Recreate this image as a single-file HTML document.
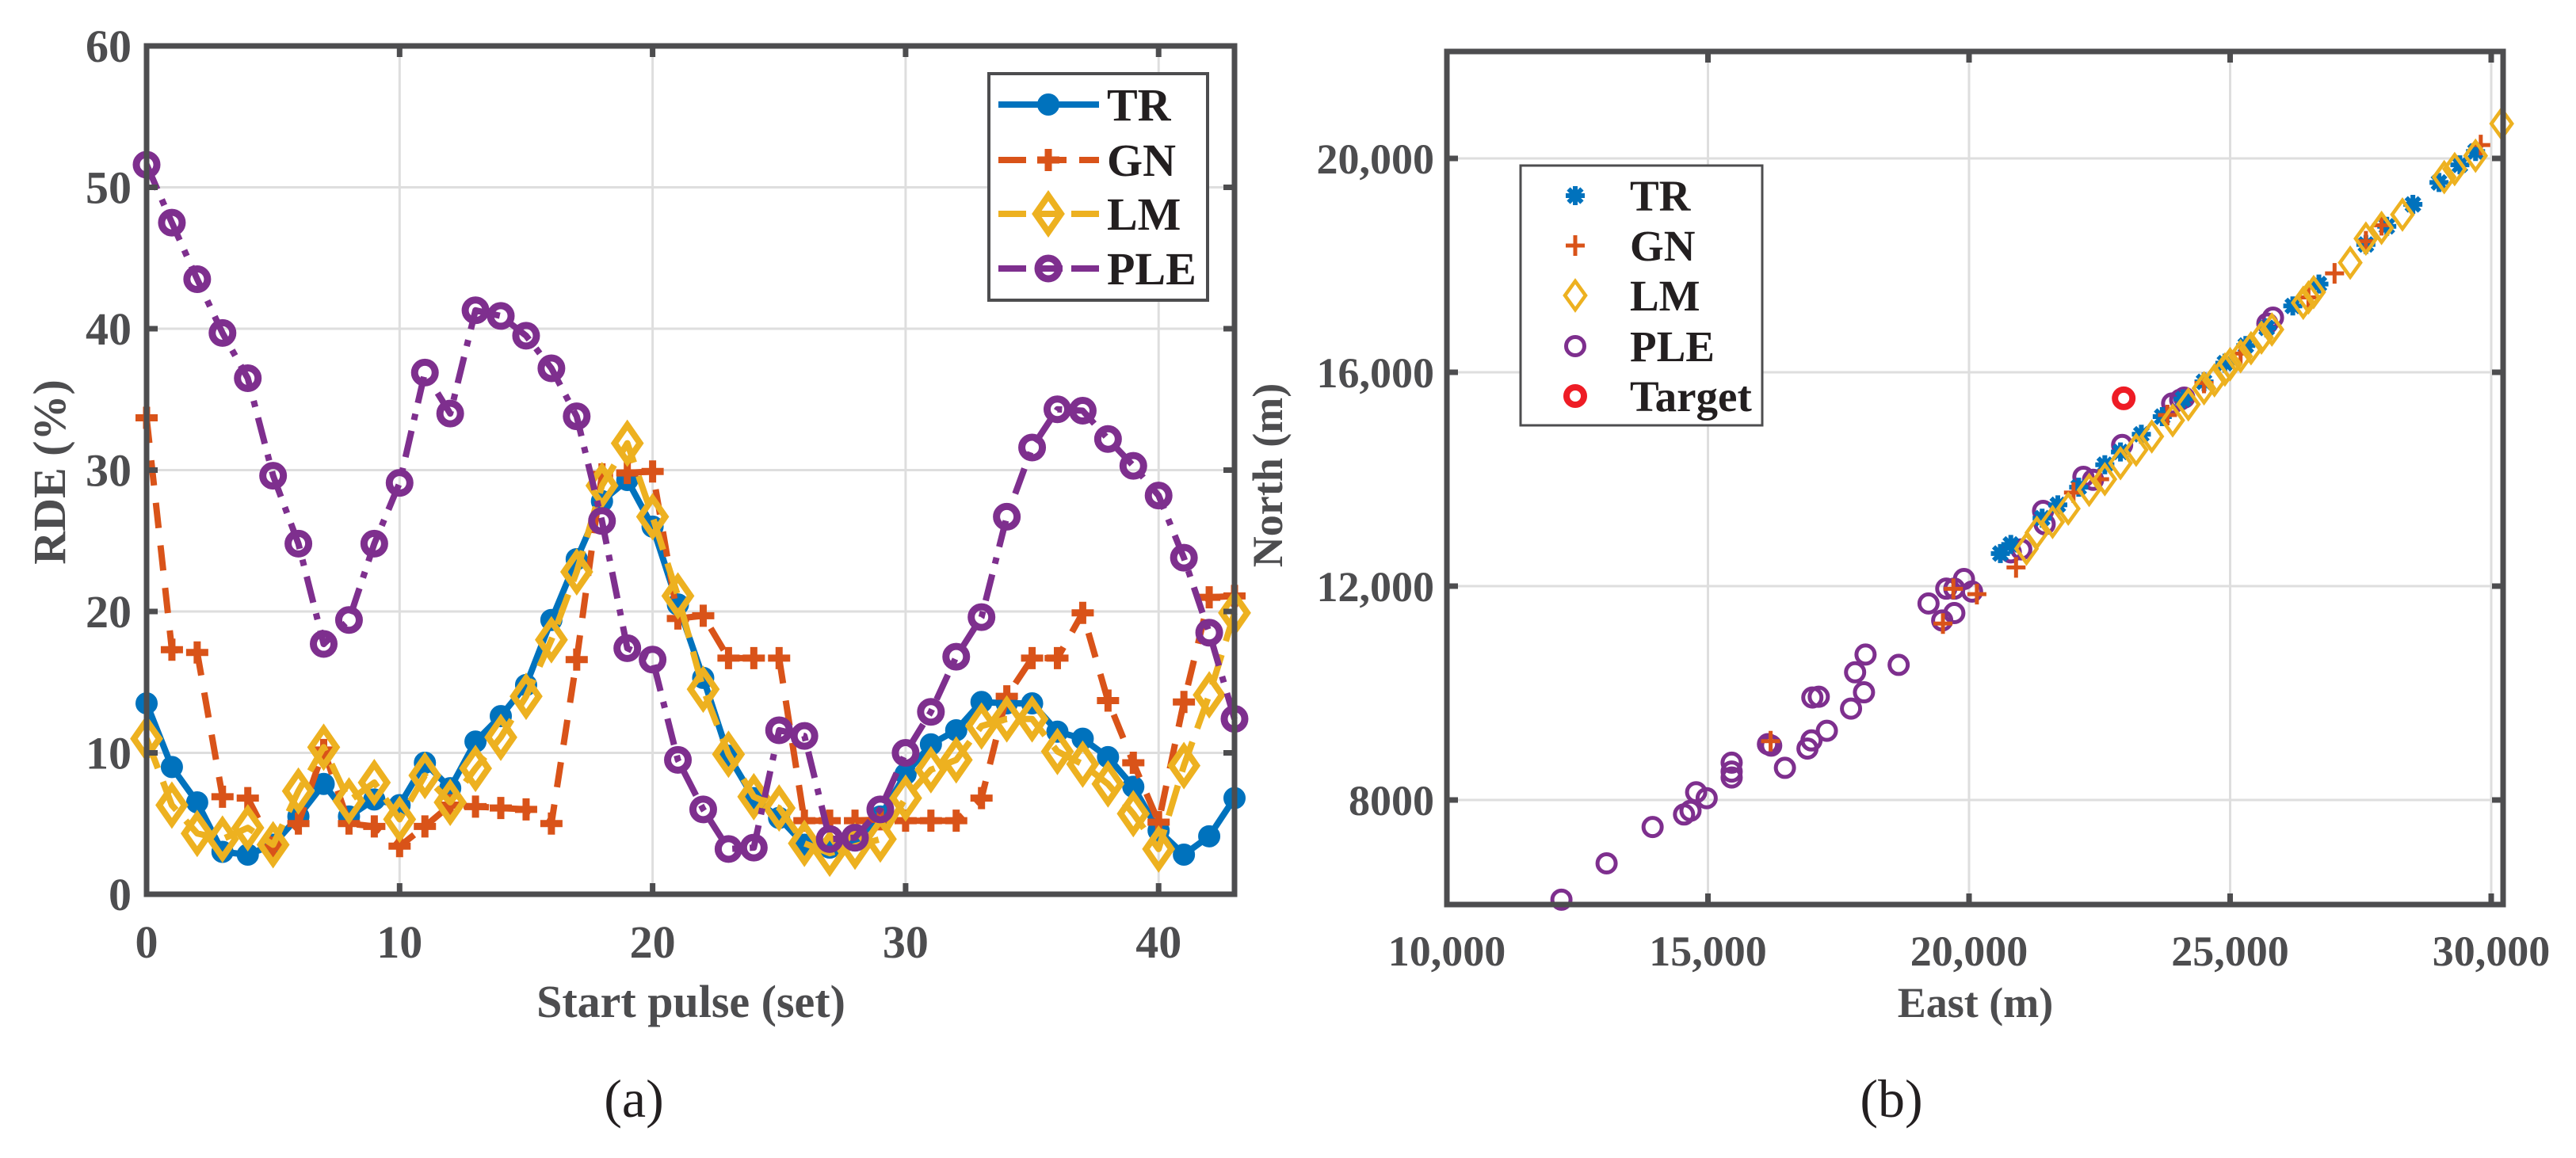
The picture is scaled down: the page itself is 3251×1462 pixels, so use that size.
<!DOCTYPE html>
<html><head><meta charset="utf-8">
<style>
html,body{margin:0;padding:0;background:#fff;}
svg{display:block;}
text{font-family:"Liberation Serif","DejaVu Serif",serif;}
</style></head>
<body>
<svg id="fig" width="3251" height="1462" viewBox="0 0 3251 1462" xmlns="http://www.w3.org/2000/svg" font-family="Liberation Serif, serif">
<g id="chartA"></g>
<g id="chartB"></g>
</svg>
<script>
// ---------- Chart A data ----------
const pulseIdx = Array.from({length:44},(_,i)=>i);
const trRDE = [13.5,9,6.5,3,2.8,3.5,5.5,7.8,5.5,6.7,6.3,9.3,7.5,10.8,12.6,14.8,19.4,23.7,27.8,29.3,26,20.5,15.3,9.8,6.8,5.4,3.5,3.3,3.8,5.5,8.5,10.6,11.6,13.6,13.5,13.5,11.5,11,9.7,7.6,4.5,2.8,4.1,6.8];
const gnRDE = [33.7,17.3,17.1,6.9,6.8,3.3,5.0,10.2,5.0,4.8,3.4,4.8,6.3,6.2,6.1,6.0,5.0,16.6,29.7,29.8,29.9,19.5,19.7,16.7,16.7,16.7,5.2,5.2,5.2,5.3,5.2,5.2,5.2,6.8,14.0,16.7,16.7,19.9,13.7,9.3,5.1,13.6,21.0,21.1];
const lmRDE = [11,6.3,4.3,3.9,4.7,3.5,7.3,10.4,6.6,7.9,5.3,8.4,6.5,8.9,11.1,14,18,22.8,28.9,31.9,26.7,21.1,14.5,9.9,6.9,6.1,3.6,2.9,3.4,3.9,6.8,8.8,9.5,11.9,12.4,12.4,10.1,9.2,7.8,5.7,3.2,9.1,14.1,19.9];
const pleRDE = [51.6,47.5,43.5,39.7,36.5,29.6,24.8,17.7,19.4,24.8,29.1,36.9,34.0,41.3,40.9,39.5,37.2,33.8,26.4,17.4,16.6,9.5,6.0,3.2,3.3,11.6,11.2,3.9,4.0,6.0,10.0,12.9,16.8,19.6,26.7,31.6,34.3,34.2,32.2,30.3,28.2,23.8,18.5,12.4];
const xTicksA = [0,10,20,30,40];
const yTicksA = [0,10,20,30,40,50,60];
// ---------- Chart B data ----------
const trEast = [20600,20800,21400,21700,22100,22600,22900,23300,23700,24100,24500,24900,25300,25700,26200,26700,27600,28000,28500,29000,29400,29700];
const trNorth = [12610,12780,13270,13520,13850,14270,14510,14840,15170,15500,15820,16170,16500,16830,17240,17650,18390,18730,19140,19550,19880,20130];
const gnEast = [19500,19700,20150,16200,20900,22000,22500,23800,24500,25200,26500,27000,27600,27900,29800];
const gnNorth = [11300,11950,11850,9100,12350,13750,14000,15200,15800,16350,17400,17850,18450,18750,20250];
const lmEast = [21100,21300,21600,21900,22300,22600,22900,23200,23500,23900,24200,24500,24700,24900,25000,25200,25400,25600,25800,26400,26500,26600,27300,27600,27900,28300,29100,29300,29700,30200];
const lmNorth = [12700,13000,13200,13450,13800,14000,14300,14550,14800,15100,15400,15700,15850,16050,16150,16300,16450,16650,16800,17300,17400,17500,18050,18500,18700,18950,19650,19800,20050,20650];
const pleEast = [12194,13059,13940,14542,14666,14774,14975,15454,15454,15454,16149,16211,16474,16906,16983,16999,17122,17277,17740,17818,17988,18018,18652,19224,19486,19564,19718,19718,19903,20058,20800,21000,21418,21448,22190,22375,22932,23890,24044,24121,25713,25821];
const pleNorth = [6136,6815,7494,7729,7798,8144,8034,8698,8421,8532,9045,9017,8601,8962,9114,9917,9931,9294,9710,10388,10014,10720,10527,11676,11358,11953,11496,11953,12133,11898,12632,12687,13407,13158,14045,13989,14640,15416,15485,15526,16912,17022];
const targetEast = [22962];
const targetNorth = [15513];
const xTicksB = [10000,15000,20000,25000,30000];
const xTickLabelsB = ["10,000","15,000","20,000","25,000","30,000"];
const yTicksB = [8000,12000,16000,20000];
const yTickLabelsB = ["8000","12,000","16,000","20,000"];

const NS="http://www.w3.org/2000/svg";
const FF="Liberation Serif, DejaVu Serif, serif";
function mk(tag,attrs,parent){const e=document.createElementNS(NS,tag);for(const k in attrs)e.setAttribute(k,attrs[k]);if(tag==='text')e.setAttribute('font-family',FF);parent.appendChild(e);return e;}
const AX="#4d4d4f", GRID="#dedede";
const C={tr:"#0072bd",gn:"#d95319",lm:"#edb120",ple:"#7e2f8e",tg:"#ee1c25"};

// ===== Chart A =====
const A=document.getElementById('chartA');
const aL=185,aR=1558,aT=58,aB=1129;
const ax=v=>aL+(v-0)/43*(aR-aL);
const ay=v=>aB-(v-0)/60*(aB-aT);
xTicksA.forEach(v=>{const g=mk('line',{x1:ax(v),x2:ax(v),y1:aT,y2:aB,stroke:GRID,'stroke-width':3},A);});
yTicksA.forEach(v=>{const g=mk('line',{x1:aL,x2:aR,y1:ay(v),y2:ay(v),stroke:GRID,'stroke-width':3},A);});
function markerA(kind,x,y,col,parent){
  if(kind==='tr'){mk('circle',{cx:x,cy:y,r:12,fill:col,stroke:col,'stroke-width':4},parent);}
  else if(kind==='gn'){mk('path',{d:`M${x-14},${y}H${x+14}M${x},${y-14}V${y+14}`,stroke:col,'stroke-width':9,fill:'none'},parent);}
  else if(kind==='lm'){mk('path',{d:`M${x},${y-23}L${x+16},${y}L${x},${y+23}L${x-16},${y}Z`,stroke:col,'stroke-width':8,fill:'none'},parent);}
  else {mk('circle',{cx:x,cy:y,r:13,fill:'none',stroke:col,'stroke-width':9},parent);}
}
const seriesA=[['tr',trRDE,C.tr,'none'],['gn',gnRDE,C.gn,'32 22'],['lm',lmRDE,C.lm,'40 18'],['ple',pleRDE,C.ple,'34 14 8 14']];
seriesA.forEach(([k,vals,col,dash])=>{
  const g=mk('g',{},A);
  
  
  const d=vals.map((v,i)=>(i?'L':'M')+ax(pulseIdx[i]).toFixed(1)+','+ay(v).toFixed(1)).join('');
  const p=mk('path',{d:d,fill:'none',stroke:col,'stroke-width':8,'stroke-dasharray':dash,'stroke-linejoin':'round'},g);
  
  
  vals.forEach((v,i)=>markerA(k,ax(pulseIdx[i]),ay(v),col,g));
});
const boxA=mk('rect',{x:aL,y:aT,width:aR-aL,height:aB-aT,fill:'none',stroke:AX,'stroke-width':7},A);

xTicksA.forEach(v=>{
  mk('line',{x1:ax(v),x2:ax(v),y1:aB,y2:aB-14,stroke:AX,'stroke-width':7},A);
  mk('line',{x1:ax(v),x2:ax(v),y1:aT,y2:aT+14,stroke:AX,'stroke-width':7},A);
  const t=mk('text',{x:ax(v),y:1209,'text-anchor':'middle','font-size':58,'font-weight':'bold',fill:AX},A);t.textContent=v;
  
});
yTicksA.forEach(v=>{
  mk('line',{x1:aL,x2:aL+14,y1:ay(v),y2:ay(v),stroke:AX,'stroke-width':7},A);
  mk('line',{x1:aR,x2:aR-14,y1:ay(v),y2:ay(v),stroke:AX,'stroke-width':7},A);
  const t=mk('text',{x:166,y:ay(v)+20,'text-anchor':'end','font-size':58,'font-weight':'bold',fill:AX},A);t.textContent=v;
  
});
const legA=mk('g',{},A);
mk('rect',{x:1248,y:93,width:276,height:286,fill:'#fff',stroke:'#4d4d4f','stroke-width':4},legA);
const legNamesA=['TR','GN','LM','PLE'];const legYA=[132,202,270,339];
seriesA.forEach(([k,vals,col,dash],i)=>{
  const g=mk('g',{},legA);
  
  
  mk('line',{x1:1260,x2:1387,y1:legYA[i],y2:legYA[i],stroke:col,'stroke-width':8,'stroke-dasharray':dash==='none'?'none':(k==='gn'?'35 16':'35 11')},g);
  markerA(k,1323,legYA[i],col,g);
  const t=mk('text',{x:1397,y:legYA[i]+20,'font-size':58,'font-weight':'bold',fill:'#231f20'},g);t.textContent=legNamesA[i];
});
let t;
t=mk('text',{x:0,y:0,'text-anchor':'middle','font-size':58,'font-weight':'bold',fill:AX,transform:'translate(82,596) rotate(-90)'},A);t.textContent='RDE (%)';

t=mk('text',{x:872,y:1284,'text-anchor':'middle','font-size':58,'font-weight':'bold',fill:AX},A);t.textContent='Start pulse (set)';

t=mk('text',{x:800,y:1410,'text-anchor':'middle','font-size':68,fill:'#231f20'},A);t.textContent='(a)';


// ===== Chart B =====
const B=document.getElementById('chartB');
const bL=1826,bR=3159,bT=65,bB=1142;
const bx=v=>bL+(v-10000)/20000*(3144-bL);
const by=v=>200+(20000-v)/4000*((1010-200)/3);
xTicksB.forEach(v=>{const g=mk('line',{x1:bx(v),x2:bx(v),y1:bT,y2:bB,stroke:GRID,'stroke-width':3},B);});
yTicksB.forEach(v=>{const g=mk('line',{x1:bL,x2:bR,y1:by(v),y2:by(v),stroke:GRID,'stroke-width':3},B);});
function markerB(kind,x,y,parent){
  if(kind==='tr'){const r=12;let d='';for(let a=0;a<4;a++){const th=a*Math.PI/4;d+=`M${x-r*Math.cos(th)},${y-r*Math.sin(th)}L${x+r*Math.cos(th)},${y+r*Math.sin(th)}`;}mk('path',{d:d,stroke:C.tr,'stroke-width':6,fill:'none'},parent);}
  else if(kind==='gn'){mk('path',{d:`M${x-12},${y}H${x+12}M${x},${y-13}V${y+13}`,stroke:C.gn,'stroke-width':5,fill:'none'},parent);}
  else if(kind==='lm'){mk('path',{d:`M${x},${y-18}L${x+13},${y}L${x},${y+18}L${x-13},${y}Z`,stroke:C.lm,'stroke-width':4.5,fill:'none'},parent);}
  else if(kind==='ple'){mk('circle',{cx:x,cy:y,r:11.5,fill:'none',stroke:C.ple,'stroke-width':5},parent);}
  else {mk('circle',{cx:x,cy:y,r:11,fill:'none',stroke:C.tg,'stroke-width':8},parent);}
}
const seriesB=[['ple',pleEast,pleNorth],['tr',trEast,trNorth],['gn',gnEast,gnNorth],['lm',lmEast,lmNorth],['tg',targetEast,targetNorth]];
seriesB.forEach(([k,E,N])=>{
  const g=mk('g',{},B);
  
  
  E.forEach((e,i)=>markerB(k,bx(e),by(N[i]),g));
});
const boxB=mk('rect',{x:bL,y:bT,width:bR-bL,height:bB-bT,fill:'none',stroke:AX,'stroke-width':7},B);

xTicksB.forEach((v,i)=>{
  mk('line',{x1:bx(v),x2:bx(v),y1:bB,y2:bB-14,stroke:AX,'stroke-width':7},B);
  mk('line',{x1:bx(v),x2:bx(v),y1:bT,y2:bT+14,stroke:AX,'stroke-width':7},B);
  const t=mk('text',{x:bx(v),y:1219,'text-anchor':'middle','font-size':54,'font-weight':'bold',fill:AX},B);t.textContent=xTickLabelsB[i];
  
});
yTicksB.forEach((v,i)=>{
  mk('line',{x1:bL,x2:bL+14,y1:by(v),y2:by(v),stroke:AX,'stroke-width':7},B);
  mk('line',{x1:bR,x2:bR-14,y1:by(v),y2:by(v),stroke:AX,'stroke-width':7},B);
  const t=mk('text',{x:1810,y:by(v)+19,'text-anchor':'end','font-size':54,'font-weight':'bold',fill:AX},B);t.textContent=yTickLabelsB[i];
  
});
const legB=mk('g',{},B);
mk('rect',{x:1919,y:209,width:305,height:328,fill:'#fff',stroke:'#4d4d4f','stroke-width':3},legB);
const legKB=['tr','gn','lm','ple','tg'];const legNB=['TR','GN','LM','PLE','Target'];const legYB=[247,310,373,437,500];
legKB.forEach((k,i)=>{
  const g=mk('g',{},legB);
  
  
  markerB(k,1988,legYB[i],g);
  const t=mk('text',{x:2057,y:legYB[i]+19,'font-size':55,'font-weight':'bold',fill:'#231f20'},g);t.textContent=legNB[i];
});
t=mk('text',{x:0,y:0,'text-anchor':'middle','font-size':54,'font-weight':'bold',fill:AX,transform:'translate(1618,600) rotate(-90)'},B);t.textContent='North (m)';

t=mk('text',{x:2493,y:1284,'text-anchor':'middle','font-size':54,'font-weight':'bold',fill:AX},B);t.textContent='East (m)';

t=mk('text',{x:2387,y:1410,'text-anchor':'middle','font-size':68,fill:'#231f20'},B);t.textContent='(b)';

</script>
</body></html>
